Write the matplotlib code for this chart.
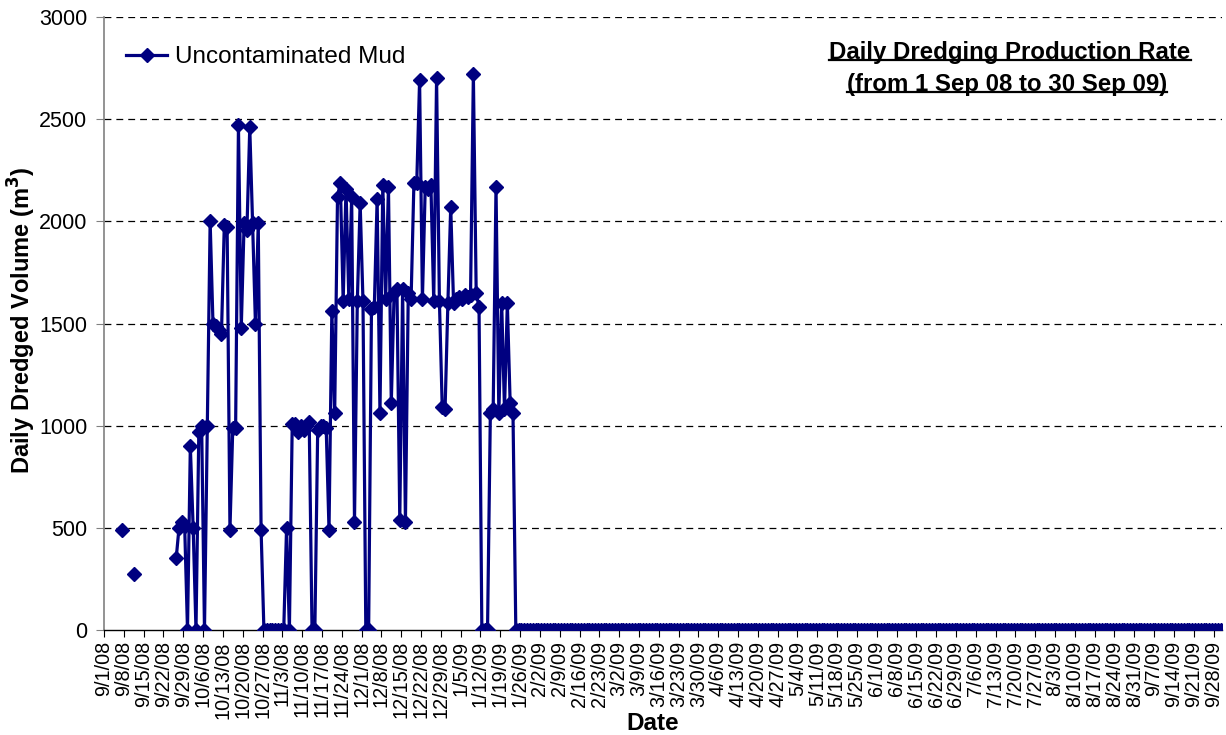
import numpy as np
import pandas as pd
import matplotlib
matplotlib.use("Agg")
import matplotlib.pyplot as plt
from matplotlib.lines import Line2D

plt.rcParams['font.family'] = ['Liberation Sans', 'DejaVu Sans']

# ---- data ----
sparse_dates = ['2008-09-07', '2008-09-11']
sparse_vals = [490, 275]

daily_start = '2008-09-26'
daily_vals = [
    350, 500, 530, 510, 0, 900, 500, 0, 970, 1000,          # 9/26 - 10/5
    0, 1000, 2000, 1500, 1490, 1470, 1450, 1980, 1970, 490,  # 10/6 - 10/15
    990, 990, 2470, 1480, 1990, 1960, 2460, 1990, 1500, 1990,  # 10/16 - 10/25
    490, 0, 0, 0, 0, 0, 0, 0, 0, 500,                        # 10/26 - 11/4
    0, 1010, 1010, 970, 1000, 980, 1000, 1020, 0, 0,         # 11/5 - 11/14
    980, 1000, 1000, 990, 490, 1560, 1060, 2120, 2190, 1610,  # 11/15 - 11/24
    2160, 1620, 2120, 530, 1610, 2090, 1610, 0, 0, 1570,     # 11/25 - 12/4
    1580, 2110, 1060, 2180, 1620, 2170, 1110, 1650, 1670, 540,  # 12/5 - 12/14
    1670, 530, 1650, 1620, 2190, 2190, 2690, 1620, 2170, 2160,  # 12/15 - 12/24
    2180, 1610, 2700, 1610, 1090, 1080, 1600, 2070, 1600, 1620,  # 12/25 - 1/3
    1630, 1620, 1640, 1630, 1640, 2720, 1650, 1580, 0, 0,    # 1/4 - 1/13
    0, 1060, 1080, 2170, 1060, 1600, 1080, 1600, 1110, 1060,  # 1/14 - 1/23
]
zero_period = ('2009-01-24', '2009-09-30')   # every day 0 m3
zero_val = 0

axis_start, axis_end = '2008-09-01', '2009-10-01'
tick_start, tick_end = '2008-09-01', '2009-09-28'
y_ticks = [0, 500, 1000, 1500, 2000, 2500, 3000]

# ---- build one daily series (NaN where no record) ----
full_index = pd.date_range(axis_start, zero_period[1], freq='D')
series = pd.Series(np.nan, index=full_index)
series.loc[pd.to_datetime(sparse_dates)] = sparse_vals
series.loc[pd.date_range(daily_start, periods=len(daily_vals), freq='D')] = daily_vals
series.loc[pd.date_range(*zero_period, freq='D')] = zero_val

xplot = series.index + pd.Timedelta(hours=12)   # centre of each day slot

navy = '#000080'
fig = plt.figure(figsize=(12.26, 7.35), dpi=100)
ax = fig.add_axes([104 / 1226, 1 - 630 / 735, (1222 - 104) / 1226, (630 - 17) / 735])

ax.plot(xplot, series.values, color=navy, lw=2.3, marker='D', ms=7.5,
        mec=navy, mfc=navy, label='Uncontaminated Mud', zorder=3)

ax.set_ylim(0, 3000)
ax.set_yticks(y_ticks)
ax.set_xlim(pd.Timestamp(axis_start), pd.Timestamp(axis_end))
ticks = pd.date_range(tick_start, tick_end, freq='7D')
ax.set_xticks(ticks)
ax.set_xticklabels([f"{d.month}/{d.day}/{d.strftime('%y')}" for d in ticks],
                   rotation=90, fontsize=14.3)
ax.tick_params(axis='y', labelsize=15.5, direction='out', length=6, color='#808080', pad=6)
ax.tick_params(axis='x', direction='out', length=5, color='black', pad=3)

for v in y_ticks[1:]:
    ax.axhline(v, color='black', lw=0.9, ls=(0, (5.5, 4)), zorder=1)

for s in ['top', 'right']:
    ax.spines[s].set_visible(False)
ax.spines['left'].set_color('#808080')
ax.spines['left'].set_linewidth(1.2)
ax.spines['bottom'].set_color('black')
ax.spines['bottom'].set_linewidth(1.0)

ax.set_ylabel('Daily Dredged Volume (m$^\\mathbf{3}$)', fontsize=17, fontweight='bold', va='center')
ax.yaxis.set_label_coords((22 - 104) / 1118, (630 - 320) / 613)
ax.set_xlabel('Date', fontsize=17.5, fontweight='bold', va='center')
ax.xaxis.set_label_coords((653 - 104) / 1118, -(723 - 630) / 613)

leg = ax.legend(loc='center left', bbox_to_anchor=((126 - 104) / 1118, (630 - 57) / 613),
                frameon=False, fontsize=17.5, handlelength=1.7, handletextpad=0.3,
                borderaxespad=0, borderpad=0)

# underlined two-line title
t1 = fig.text(1010 / 1226, 1 - 52 / 735, 'Daily Dredging Production Rate',
              ha='center', va='center', fontsize=17.3, fontweight='bold')
t2 = fig.text(1007 / 1226, 1 - 84 / 735, '(from 1 Sep 08 to 30 Sep 09)',
              ha='center', va='center', fontsize=17.3, fontweight='bold')
fig.canvas.draw()
r = fig.canvas.get_renderer()
for t in (t1, t2):
    bb = t.get_window_extent(renderer=r).transformed(fig.transFigure.inverted())
    y = bb.y0 + 0.005
    fig.add_artist(Line2D([bb.x0, bb.x1], [y, y], transform=fig.transFigure,
                          color='black', lw=1.6))

fig.savefig('out.png', dpi=100)
